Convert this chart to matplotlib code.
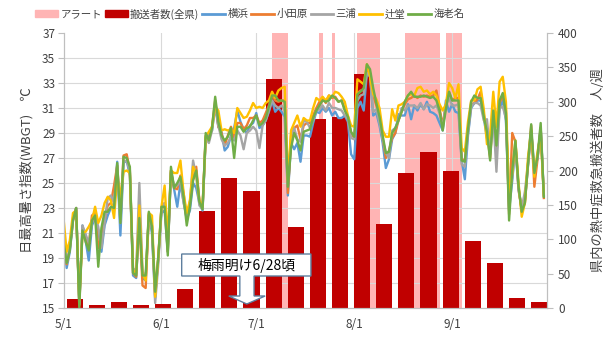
import numpy as np
import pandas as pd
import matplotlib
matplotlib.use("Agg")
import matplotlib.pyplot as plt
import matplotlib.dates as mdates
from matplotlib.patches import Patch, Polygon
from matplotlib.lines import Line2D

plt.rcParams['font.family'] = ['Noto Sans CJK JP', 'DejaVu Sans']

# daily max WBGT, 5/1 - 9/30
days = pd.date_range("2020-05-01", "2020-09-30")

yokohama = [
    # May
    21.1, 18.2, 19.5, 22.0, 23.0, 15.4, 21.6, 20.4, 18.8, 21.6,
    22.2, 21.2, 19.5, 21.6, 22.4, 23.0, 23.4, 26.7, 20.8, 26.6,
    26.8, 25.6, 17.6, 17.4, 22.6, 17.4, 17.2, 22.4, 21.0, 15.8, 19.0,
    # June
    22.6, 22.8, 19.5, 25.9, 24.5, 23.1, 25.0, 23.5, 22.1, 22.8,
    25.0, 24.6, 23.4, 22.8, 28.6, 28.8, 29.2, 31.2, 29.5, 29.1,
    27.6, 27.9, 28.8, 29.4, 30.8, 29.9, 29.3, 29.0, 29.6, 29.8,
    # July
    30.6, 29.4, 29.6, 30.0, 30.7, 31.6, 30.7, 31.0, 30.7, 30.3,
    24.0, 28.2, 27.7, 28.2, 26.7, 28.8, 28.8, 28.7, 29.8, 30.7,
    30.6, 31.0, 30.7, 31.0, 30.4, 30.7, 30.2, 30.2, 30.4, 29.9, 27.3,
    # August
    26.9, 31.0, 31.5, 30.8, 33.8, 33.5, 30.4, 30.6, 29.6, 28.2,
    26.2, 26.9, 28.5, 29.0, 30.5, 30.4, 30.4, 31.3, 30.1, 31.2,
    30.8, 31.3, 30.9, 31.5, 30.7, 30.6, 30.4, 29.8, 29.2, 31.6, 30.7,
    # September
    31.3, 30.7, 30.6, 26.8, 25.3, 28.8, 31.0, 31.4, 31.6, 31.6,
    30.2, 28.6, 28.1, 30.4, 27.2, 31.0, 31.6, 30.0, 22.8, 25.2,
    28.0, 24.6, 22.9, 23.6, 26.4, 29.2, 25.9, 27.0, 29.4, 24.0,
]

odawara = [
    20.6, 18.5, 19.8, 22.0, 23.0, 15.2, 21.3, 20.6, 20.0, 22.4,
    22.6, 19.8, 20.8, 22.0, 23.2, 23.4, 24.8, 26.4, 22.6, 27.2,
    27.3, 26.0, 17.8, 17.5, 22.3, 16.8, 16.6, 22.5, 21.6, 16.0, 19.0,
    23.0, 23.4, 19.5, 26.0, 24.6, 24.5, 25.6, 24.2, 22.0, 23.5,
    25.3, 26.3, 23.6, 23.0, 28.8, 28.5, 29.5, 31.6, 29.5, 29.0,
    28.0, 28.8, 29.5, 28.6, 29.8, 29.8, 29.3, 29.6, 30.2, 30.2,
    30.4, 29.8, 30.0, 30.6, 31.2, 32.0, 31.6, 31.5, 31.6, 31.6,
    24.2, 28.4, 29.4, 29.6, 28.5, 29.6, 29.8, 29.8, 30.4, 31.0,
    31.5, 31.8, 31.4, 32.0, 31.8, 31.9, 31.5, 31.6, 30.9, 30.3, 29.0,
    28.6, 32.2, 32.4, 32.4, 34.0, 33.8, 32.0, 31.2, 30.2, 28.6,
    27.0, 27.6, 28.6, 29.0, 30.0, 30.7, 31.3, 31.7, 31.8, 32.0,
    31.8, 32.0, 31.9, 32.0, 31.9, 32.0, 32.4, 31.0, 29.6, 31.2, 32.3,
    31.6, 31.8, 31.8, 26.9, 26.8, 29.4, 31.3, 31.4, 31.7, 32.3,
    30.5, 29.0, 27.0, 30.6, 27.9, 31.4, 32.0, 30.8, 22.5, 29.0,
    28.3, 24.5, 22.8, 23.4, 26.5, 29.6, 24.7, 26.9, 29.4, 23.8,
]

miura = [
    21.1, 18.6, 19.8, 22.2, 23.0, 15.3, 21.6, 20.9, 20.2, 21.8,
    22.4, 21.5, 19.8, 21.8, 23.8, 24.0, 23.4, 26.3, 21.8, 26.7,
    26.8, 25.9, 18.2, 17.9, 25.0, 17.9, 17.5, 22.4, 21.3, 15.4, 18.5,
    23.0, 23.4, 19.8, 25.8, 24.8, 24.8, 25.2, 23.4, 22.4, 23.4,
    26.8, 25.5, 23.2, 22.9, 28.6, 28.2, 29.2, 31.2, 29.6, 28.5,
    28.0, 28.2, 28.7, 28.4, 29.2, 28.8, 27.7, 29.0, 29.2, 29.5,
    29.2, 27.8, 29.6, 30.0, 30.8, 31.6, 31.2, 31.0, 31.2, 30.8,
    24.8, 28.8, 29.4, 28.5, 28.3, 30.0, 29.9, 29.4, 30.0, 30.8,
    30.9, 31.2, 30.8, 31.4, 31.0, 31.0, 30.9, 30.8, 30.4, 30.1, 28.6,
    28.5, 31.6, 32.0, 32.1, 33.8, 33.6, 30.7, 30.9, 29.8, 28.5,
    27.4, 27.0, 29.2, 29.4, 30.0, 31.0, 30.8, 31.2, 31.2, 31.2,
    31.0, 31.4, 30.9, 31.3, 31.2, 31.0, 31.2, 30.6, 29.4, 31.2, 31.8,
    31.2, 31.2, 31.3, 26.5, 26.3, 29.0, 31.1, 31.4, 31.4, 31.2,
    30.0, 30.1, 27.3, 30.4, 25.9, 31.0, 31.1, 30.2, 24.3, 25.4,
    28.0, 24.4, 23.0, 24.3, 26.6, 29.0, 26.0, 27.0, 29.4, 24.1,
]

tsujido = [
    22.2, 19.5, 20.4, 22.6, 22.8, 15.6, 21.0, 21.1, 21.5, 22.0,
    23.1, 21.8, 22.4, 23.4, 23.9, 23.6, 22.2, 25.5, 23.9, 25.9,
    26.0, 25.8, 18.0, 17.8, 23.2, 17.8, 17.2, 22.6, 22.4, 15.9, 19.1,
    23.1, 24.8, 20.5, 26.0, 25.8, 25.8, 26.8, 24.2, 22.6, 23.6,
    26.3, 25.8, 23.6, 23.1, 28.7, 29.1, 29.5, 31.1, 30.8, 29.2,
    29.3, 29.2, 29.3, 29.0, 31.0, 30.6, 30.2, 30.3, 30.8, 31.4,
    31.0, 31.1, 31.0, 31.4, 31.6, 32.3, 31.8, 32.4, 32.6, 32.7,
    25.2, 29.2, 29.8, 30.4, 29.5, 30.2, 30.0, 30.0, 31.0, 31.8,
    31.6, 31.9, 31.6, 32.0, 31.9, 32.3, 32.2, 31.9, 31.5, 30.4, 29.6,
    29.5, 33.3, 33.1, 32.9, 34.5, 33.5, 32.1, 31.7, 31.0, 29.2,
    28.7, 28.7, 30.9, 30.0, 31.2, 31.3, 31.5, 32.0, 32.1, 32.0,
    32.6, 32.7, 32.3, 32.4, 32.1, 32.3, 32.0, 31.3, 30.8, 31.3, 33.0,
    32.6, 31.8, 32.9, 27.8, 27.5, 29.9, 31.6, 31.6, 32.5, 32.7,
    30.9, 28.1, 28.9, 32.3, 29.5, 33.1, 33.5, 31.5, 23.9, 25.8,
    28.4, 25.0, 22.3, 23.4, 27.1, 29.2, 25.5, 27.5, 28.9, 24.0,
]

ebina = [
    20.3, 18.6, 19.6, 22.0, 23.0, 15.0, 21.2, 20.3, 19.6, 22.0,
    22.4, 18.3, 21.4, 22.7, 22.7, 23.1, 23.0, 26.6, 21.8, 27.1,
    27.0, 26.3, 17.8, 17.6, 22.2, 17.6, 17.6, 22.7, 21.5, 16.3, 19.1,
    23.1, 23.1, 19.2, 26.3, 24.6, 25.0, 25.5, 23.9, 21.6, 23.1,
    25.2, 26.0, 23.5, 22.9, 29.0, 28.4, 29.4, 31.9, 29.9, 28.8,
    28.4, 28.7, 29.4, 27.0, 29.5, 29.5, 29.1, 29.4, 29.5, 30.0,
    30.4, 29.6, 29.8, 30.2, 31.1, 32.0, 32.0, 31.6, 31.6, 31.5,
    24.7, 27.8, 29.0, 28.4, 27.6, 29.1, 29.2, 29.3, 30.2, 30.8,
    31.2, 31.6, 31.5, 31.6, 32.0, 31.8, 31.5, 31.6, 30.8, 30.3, 29.1,
    28.7, 32.1, 32.3, 32.6, 34.5, 34.1, 32.6, 31.4, 30.3, 28.8,
    27.4, 27.5, 29.0, 29.4, 30.0, 30.7, 31.5, 32.0, 32.3, 31.9,
    31.9, 31.9, 32.0, 31.9, 31.8, 31.9, 31.6, 30.8, 29.2, 30.9, 32.3,
    31.6, 31.6, 31.6, 26.8, 26.7, 29.3, 31.5, 32.0, 31.8, 31.8,
    30.3, 29.1, 26.8, 30.8, 28.0, 31.6, 32.2, 30.6, 22.0, 26.0,
    28.4, 24.7, 22.7, 23.4, 26.6, 29.7, 25.8, 27.1, 29.8, 23.9,
]

# weekly heatstroke transports (whole prefecture)
weeks = pd.date_range("2020-05-04", periods=22, freq="7D")
transports = [13, 4, 9, 4, 6, 28, 141, 189, 170, 333, 118,
              275, 278, 341, 122, 196, 227, 199, 97, 65, 14, 9]

# alert periods (first day, last day)
alert_start = ["2020-07-06", "2020-07-21", "2020-07-25", "2020-08-02", "2020-08-17", "2020-08-30"]
alert_end = ["2020-07-10", "2020-07-21", "2020-07-25", "2020-08-08", "2020-08-27", "2020-09-03"]

month_ticks = pd.to_datetime(["2020-05-01", "2020-06-01", "2020-07-01", "2020-08-01", "2020-09-01"])
month_labels = ["5/1", "6/1", "7/1", "8/1", "9/1"]

series = [("横浜", yokohama, "#5B9BD5"), ("小田原", odawara, "#ED7D31"),
          ("三浦", miura, "#A5A5A5"), ("辻堂", tsujido, "#FFC000"),
          ("海老名", ebina, "#70AD47")]

grey = "#BFBFBF"
txt = "#404040"

fig = plt.figure(figsize=(6.14, 3.37), dpi=100)
ax = fig.add_axes([63.5 / 614, 29 / 337, 483.5 / 614, 275 / 337])
axl = ax.twinx()

# bar axis (right): alert spans + weekly counts
ax.set_ylim(0, 400)
ax.set_xlim(pd.Timestamp("2020-05-01"), pd.Timestamp("2020-10-01"))
for s, e in zip(alert_start, alert_end):
    s, e = pd.Timestamp(s), pd.Timestamp(e) + pd.Timedelta(days=1)
    ax.axvspan(s, e, color="#FF8C8C", alpha=0.65, lw=0, zorder=1)
ax.bar(weeks + pd.Timedelta(hours=12), transports, width=5.1, color="#C00000", zorder=2)

ax.yaxis.tick_right()
ax.yaxis.set_label_position("right")
ax.set_yticks(np.arange(0, 401, 50))
ax.set_yticks(np.linspace(0, 400, 12), minor=True)
ax.grid(True, which="minor", axis="y", color="#D9D9D9", lw=0.8, zorder=0)
ax.set_xticks(month_ticks)
ax.set_xticklabels(month_labels)
ax.grid(True, which="major", axis="x", color="#D9D9D9", lw=0.8, zorder=0)
ax.tick_params(axis="y", which="major", length=4, color=grey, labelsize=8.5, labelcolor=txt, pad=4)
ax.tick_params(axis="y", which="minor", length=0)
ax.tick_params(axis="x", length=0, labelsize=8.5, labelcolor=txt, pad=7)
ax.set_ylabel("県内の熱中症救急搬送者数　人/週", fontsize=9.5, color=txt, labelpad=10)

# line axis (left): WBGT
for name, vals, c in series:
    axl.plot(days, vals, color=c, lw=1.7, solid_joinstyle="round", label=name)
axl.set_ylim(15, 37)
axl.set_yticks(np.arange(15, 38, 2))
axl.yaxis.tick_left()
axl.yaxis.set_label_position("left")
axl.tick_params(axis="y", length=4, color=grey, labelsize=8.5, labelcolor=txt, pad=2)
axl.set_ylabel("日最高暑さ指数(WBGT)　℃", fontsize=9.5, color=txt, labelpad=6)

for a in (ax, axl):
    a.spines["top"].set_visible(False)
    for side in ("left", "right", "bottom"):
        a.spines[side].set_color(grey)

# rainy season end callout
tip = mdates.date2num(pd.Timestamp("2020-06-28"))
shape = [(tip - 20.6, 19.32), (tip + 20.3, 19.32), (tip + 20.3, 17.56), (tip + 2.3, 17.56),
         (tip + 2.3, 15.96), (tip + 5.8, 15.96), (tip, 15.32), (tip - 5.7, 15.96),
         (tip - 2.2, 15.96), (tip - 2.2, 17.56), (tip - 20.6, 17.56)]
axl.add_patch(Polygon(shape, closed=True, facecolor="white", edgecolor="#5E7E9E", lw=1, zorder=5))
axl.text(tip, 18.44, "梅雨明け6/28頃", ha="center", va="center", fontsize=10, color="black", zorder=6)

handles = [Patch(color="#FFB4B4"), Patch(color="#C00000")] + \
          [Line2D([], [], color=c, lw=2) for _, _, c in series]
labels = ["アラート", "搬送者数(全県)"] + [n for n, _, _ in series]
fig.legend(handles, labels, loc="center left", bbox_to_anchor=(26 / 614, 1 - 14 / 337),
           ncol=7, frameon=False, fontsize=7.5, handlelength=2.2, handleheight=0.7,
           handletextpad=0.2, columnspacing=0.3, labelcolor=txt)

fig.savefig("out.png", dpi=100)
